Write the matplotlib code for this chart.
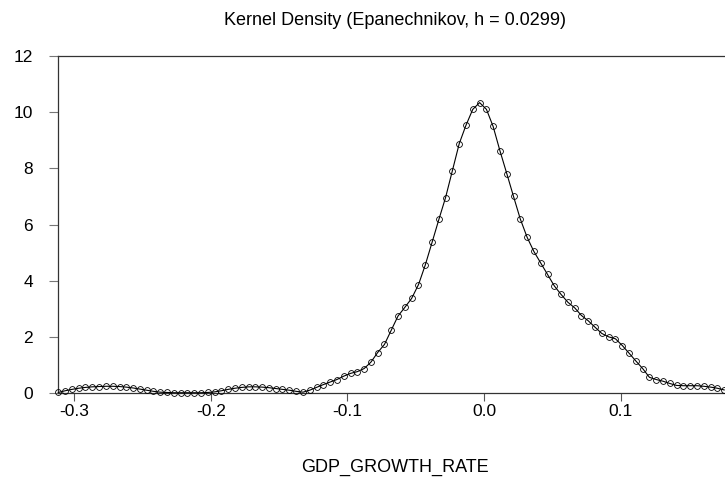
"""Kernel density of GDP growth rate (EViews style)."""
import matplotlib.pyplot as plt

plt.rcParams["font.family"] = ["Liberation Sans", "DejaVu Sans"]

# evaluation grid (GDP_GROWTH_RATE)
grid_x = [
    -0.3115, -0.3065, -0.3015, -0.2966, -0.2916, -0.2866, -0.2817, -0.2767,
    -0.2717, -0.2667, -0.2618, -0.2568, -0.2518, -0.2469, -0.2419, -0.2369,
    -0.2320, -0.2270, -0.2220, -0.2170, -0.2121, -0.2071, -0.2021, -0.1972,
    -0.1922, -0.1872, -0.1823, -0.1773, -0.1723, -0.1673, -0.1624, -0.1574,
    -0.1524, -0.1475, -0.1425, -0.1375, -0.1325, -0.1276, -0.1226, -0.1176,
    -0.1127, -0.1077, -0.1027, -0.0977, -0.0928, -0.0878, -0.0828, -0.0779,
    -0.0729, -0.0679, -0.0630, -0.0580, -0.0530, -0.0480, -0.0431, -0.0381,
    -0.0331, -0.0282, -0.0232, -0.0182, -0.0133, -0.0083, -0.0033, 0.0017,
    0.0066, 0.0116, 0.0166, 0.0215, 0.0265, 0.0315, 0.0364, 0.0414,
    0.0464, 0.0514, 0.0563, 0.0613, 0.0663, 0.0712, 0.0762, 0.0812,
    0.0861, 0.0911, 0.0961, 0.1011, 0.1060, 0.1110, 0.1160, 0.1209,
    0.1259, 0.1309, 0.1358, 0.1408, 0.1458, 0.1507, 0.1557, 0.1607,
    0.1657, 0.1706, 0.1756,
]
# estimated density at each grid point
density = [
    0.02, 0.08, 0.13, 0.17, 0.20, 0.22, 0.23, 0.24,
    0.24, 0.23, 0.21, 0.18, 0.14, 0.10, 0.06, 0.03,
    0.02, 0.01, 0.01, 0.01, 0.01, 0.01, 0.02, 0.04,
    0.08, 0.13, 0.17, 0.20, 0.22, 0.22, 0.21, 0.19,
    0.16, 0.13, 0.10, 0.06, 0.03, 0.10, 0.20, 0.30,
    0.39, 0.48, 0.60, 0.70, 0.76, 0.87, 1.10, 1.44,
    1.73, 2.24, 2.74, 3.05, 3.37, 3.86, 4.55, 5.36,
    6.18, 6.96, 7.92, 8.88, 9.53, 10.10, 10.34, 10.10,
    9.49, 8.62, 7.81, 7.00, 6.19, 5.54, 5.04, 4.63,
    4.22, 3.81, 3.51, 3.23, 3.03, 2.76, 2.57, 2.34,
    2.12, 2.00, 1.93, 1.69, 1.42, 1.14, 0.87, 0.56,
    0.48, 0.42, 0.34, 0.27, 0.26, 0.26, 0.26, 0.24,
    0.21, 0.17, 0.11,
]

x_ticks = [-0.3, -0.2, -0.1, 0.0, 0.1]
x_tick_labels = ["-0.3", "-0.2", "-0.1", "0.0", "0.1"]
y_ticks = [0, 2, 4, 6, 8, 10, 12]

fig = plt.figure(figsize=(7.25, 4.79), dpi=100)
ax = fig.add_axes([0.08, 0.1795, 0.92, 0.7036])

ax.plot(grid_x, density, "k-", linewidth=0.8, marker="o", markersize=4.2,
        markerfacecolor="none", markeredgecolor="black", markeredgewidth=0.6,
        clip_on=False, zorder=3)

ax.set_xlim(-0.3117, 0.1762)
ax.set_ylim(0, 12)
ax.set_xticks(x_ticks)
ax.set_xticklabels(x_tick_labels)
ax.set_yticks(y_ticks)
ax.tick_params(axis="x", direction="out", length=5.5, width=0.8,
               color="#555555", labelsize=12.5, pad=2.5)
ax.tick_params(axis="y", direction="out", length=6.5, width=0.8,
               color="#777777", labelsize=12.5, pad=11.5)

ax.spines["right"].set_visible(False)
for s in ["left", "top", "bottom"]:
    ax.spines[s].set_color("#333333")
    ax.spines[s].set_linewidth(0.9)

fig.text(0.545, 0.958, "Kernel Density (Epanechnikov, h = 0.0299)",
         ha="center", va="center", fontsize=13)
fig.text(0.545, 0.025, "GDP_GROWTH_RATE", ha="center", va="center",
         fontsize=13)

fig.savefig("out.png", dpi=100)
plt.close(fig)
